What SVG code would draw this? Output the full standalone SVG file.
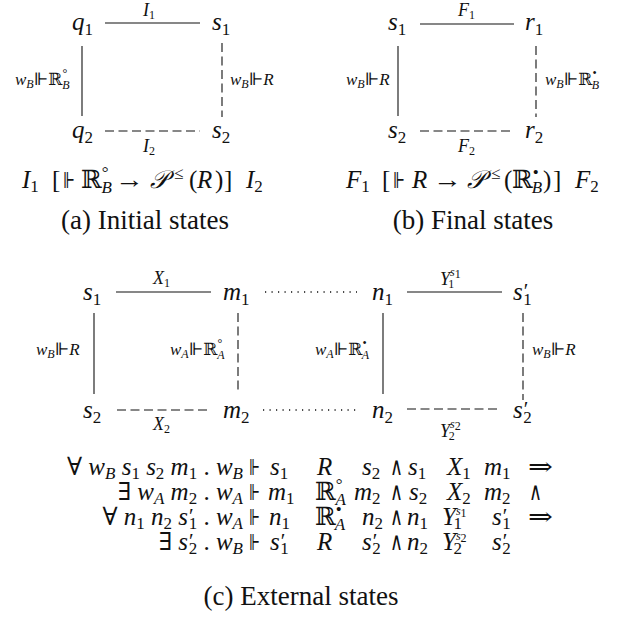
<svg xmlns="http://www.w3.org/2000/svg" width="620" height="623" viewBox="0 0 620 623">
<style>
text{font-family:"Liberation Serif","DejaVu Serif",serif;fill:#111}
.n{font-size:25px;font-style:italic}
.e{font-size:18px;font-style:italic}
.l{font-size:17px;font-style:italic}
.f{font-size:25px;font-style:italic}
.fv{font-size:22px;font-style:normal}
.cap{font-size:27px;font-style:normal}
.u{font-style:normal}
.s1{font-size:17px;font-style:normal}
.s2{font-size:12px;font-style:normal}
.si{font-size:12px;font-style:italic}
.fi{font-size:17px;font-style:italic}
.fu{font-size:17px;font-style:normal}
.pr{font-size:21px;font-style:normal}
.solid{stroke:#111;stroke-width:1.1;fill:none}
.dash{stroke:#111;stroke-width:1.1;stroke-dasharray:9 4.5;fill:none}
.dot{stroke:#111;stroke-width:1.3;stroke-dasharray:1.2 5.3;fill:none}
</style>

<!-- (a) Initial states -->
<g id="a-q1"><text class="n" x="72" y="30">q<tspan class="s1" dy="5">1</tspan></text></g>
<g id="a-s1"><text class="n" x="212" y="30">s<tspan class="s1" dy="5">1</tspan></text></g>
<g id="a-q2"><text class="n" x="72" y="138">q<tspan class="s1" dy="5">2</tspan></text></g>
<g id="a-s2"><text class="n" x="212" y="138">s<tspan class="s1" dy="5">2</tspan></text></g>

<!-- (b) Final states -->
<g id="b-s1"><text class="n" x="388" y="30">s<tspan class="s1" dy="5">1</tspan></text></g>
<g id="b-r1"><text class="n" x="525" y="30">r<tspan class="s1" dy="5">1</tspan></text></g>
<g id="b-s2"><text class="n" x="388" y="138">s<tspan class="s1" dy="5">2</tspan></text></g>
<g id="b-r2"><text class="n" x="525" y="138">r<tspan class="s1" dy="5">2</tspan></text></g>

<!-- (c) External states -->
<g id="c-s1"><text class="n" x="83" y="300">s<tspan class="s1" dy="5">1</tspan></text></g>
<g id="c-m1"><text class="n" x="223" y="300">m<tspan class="s1" dy="5">1</tspan></text></g>
<g id="c-n1"><text class="n" x="372" y="300">n<tspan class="s1" dy="5">1</tspan></text></g>
<g id="c-s1p"><text class="n" x="513" y="300">s<tspan class="pr" dx="1" dy="-2">′</tspan><tspan class="s1" dx="-5" dy="7">1</tspan></text></g>
<g id="c-s2"><text class="n" x="83" y="418">s<tspan class="s1" dy="5">2</tspan></text></g>
<g id="c-m2"><text class="n" x="223" y="418">m<tspan class="s1" dy="5">2</tspan></text></g>
<g id="c-n2"><text class="n" x="372" y="418">n<tspan class="s1" dy="5">2</tspan></text></g>
<g id="c-s2p"><text class="n" x="513" y="418">s<tspan class="pr" dx="1" dy="-2">′</tspan><tspan class="s1" dx="-5" dy="7">2</tspan></text></g>

<g id="connectors">
  <!-- (a) -->
  <line class="solid" x1="105" y1="23" x2="200" y2="23"/>
  <line class="solid" x1="82" y1="46" x2="82" y2="116"/>
  <line class="dash" x1="222" y1="43" x2="222" y2="117"/>
  <line class="dash" x1="105" y1="131" x2="200" y2="131"/>
  <!-- (b) -->
  <line class="solid" x1="420" y1="24" x2="514" y2="24"/>
  <line class="solid" x1="398" y1="46" x2="398" y2="116"/>
  <line class="dash" x1="536" y1="46" x2="536" y2="117"/>
  <line class="dash" x1="420" y1="131" x2="512" y2="131"/>
  <!-- (c) -->
  <line class="solid" x1="116" y1="292" x2="211" y2="292"/>
  <line class="dot" x1="265" y1="292" x2="357" y2="292"/>
  <line class="solid" x1="407" y1="292" x2="502" y2="292"/>
  <line class="solid" x1="94" y1="313" x2="94" y2="394"/>
  <line class="dash" x1="238" y1="313" x2="238" y2="392"/>
  <line class="solid" x1="383" y1="313" x2="383" y2="394"/>
  <line class="dash" x1="523" y1="313" x2="523" y2="400"/>
  <line class="dash" x1="117" y1="410" x2="208" y2="410"/>
  <line class="dot" x1="263" y1="410" x2="357" y2="410"/>
  <line class="dash" x1="407" y1="409" x2="500" y2="409"/>
</g>

<g id="edge-labels">
  <!-- (a) -->
  <text class="e" x="143" y="16">I<tspan class="s2" dy="3">1</tspan></text>
  <text class="e" x="143" y="152">I<tspan class="s2" dy="3">2</tspan></text>
  <text class="l" x="15" y="85">w<tspan class="si" dy="3">B</tspan><tspan class="u" dy="-3">⊩ℝ</tspan><tspan class="s2" dy="-8">°</tspan><tspan class="si" dx="-5" dy="12">B</tspan></text>
  <text class="l" x="230" y="85">w<tspan class="si" dy="3">B</tspan><tspan class="u" dy="-3">⊩</tspan>R</text>
  <!-- (b) -->
  <text class="e" x="458" y="16">F<tspan class="s2" dy="3">1</tspan></text>
  <text class="e" x="458" y="152">F<tspan class="s2" dy="3">2</tspan></text>
  <text class="l" x="346" y="85">w<tspan class="si" dy="3">B</tspan><tspan class="u" dy="-3">⊩</tspan>R</text>
  <text class="l" x="545" y="85">w<tspan class="si" dy="3">B</tspan><tspan class="u" dy="-3">⊩ℝ</tspan><tspan class="s2" dy="-8">•</tspan><tspan class="si" dx="-5" dy="12">B</tspan></text>
  <!-- (c) -->
  <text class="e" x="153" y="284">X<tspan class="s2" dy="3">1</tspan></text>
  <text class="e" x="153" y="430">X<tspan class="s2" dy="3">2</tspan></text>
  <text class="e" x="440" y="285">Y<tspan class="si" dy="-9">s</tspan><tspan class="s2" font-size="9" dy="2">1</tspan><tspan class="s2" dx="-12" dy="10">1</tspan></text>
  <text class="e" x="440" y="437">Y<tspan class="si" dy="-9">s</tspan><tspan class="s2" font-size="9" dy="2">2</tspan><tspan class="s2" dx="-12" dy="10">2</tspan></text>
  <text class="l" x="36" y="355">w<tspan class="si" dy="3">B</tspan><tspan class="u" dy="-3">⊩</tspan>R</text>
  <text class="l" x="170" y="355">w<tspan class="si" dy="3">A</tspan><tspan class="u" dy="-3">⊩ℝ</tspan><tspan class="s2" dy="-8">°</tspan><tspan class="si" dx="-5" dy="12">A</tspan></text>
  <text class="l" x="315" y="355">w<tspan class="si" dy="3">A</tspan><tspan class="u" dy="-3">⊩ℝ</tspan><tspan class="s2" dy="-8">•</tspan><tspan class="si" dx="-5" dy="12">A</tspan></text>
  <text class="l" x="532" y="355">w<tspan class="si" dy="3">B</tspan><tspan class="u" dy="-3">⊩</tspan>R</text>
</g>

<!-- formula (a) -->
<g id="formula-a">
  <text class="f" x="22" y="188">I<tspan class="fu" dy="4">1</tspan></text>
  <text class="f u" x="52" y="188">[</text>
  <text class="fv" x="63" y="188" textLength="12" lengthAdjust="spacingAndGlyphs">⊩</text>
  <text class="f" x="81" y="188"><tspan class="u">ℝ</tspan><tspan class="fu" dy="-10">°</tspan><tspan class="fi" dx="-7" dy="15">B</tspan></text>
  <text class="f u" x="115" y="188" textLength="29" lengthAdjust="spacingAndGlyphs">→</text>
  <text class="f" x="150" y="188" textLength="18" lengthAdjust="spacingAndGlyphs">𝒫</text>
  <text class="fu" x="174" y="179">≤</text>
  <text class="f" y="188"><tspan class="u" x="189">(</tspan><tspan x="197">R</tspan><tspan class="u" x="215">)</tspan><tspan class="u" x="224">]</tspan></text>
  <text class="f" x="246" y="188">I<tspan class="fu" dy="4">2</tspan></text>
</g>
<!-- formula (b) -->
<g id="formula-b">
  <text class="f" x="346" y="188">F<tspan class="fu" dy="4">1</tspan></text>
  <text class="f u" x="382" y="188">[</text>
  <text class="fv" x="393" y="188" textLength="12" lengthAdjust="spacingAndGlyphs">⊩</text>
  <text class="f" x="412" y="188">R</text>
  <text class="f u" x="433" y="188" textLength="29" lengthAdjust="spacingAndGlyphs">→</text>
  <text class="f" x="467" y="188" textLength="18" lengthAdjust="spacingAndGlyphs">𝒫</text>
  <text class="fu" x="491" y="179">≤</text>
  <text class="f u" x="504" y="188">(</text>
  <text class="f" x="512" y="188"><tspan class="u">ℝ</tspan><tspan class="fu" dy="-10">•</tspan><tspan class="fi" dx="-7" dy="15">B</tspan></text>
  <text class="f u" y="188"><tspan x="543">)</tspan><tspan x="553">]</tspan></text>
  <text class="f" x="575" y="188">F<tspan class="fu" dy="4">2</tspan></text>
</g>
<text class="cap" x="145" y="229" text-anchor="middle">(a) Initial states</text>
<text class="cap" x="473" y="229" text-anchor="middle">(b) Final states</text>

<g id="formula-c">
  <!-- line 1 -->
  <text class="f" x="243" y="475" text-anchor="end"><tspan class="u">∀ </tspan>w<tspan class="fi" dy="4">B</tspan><tspan dy="-4"> s</tspan><tspan class="fu" dy="4">1</tspan><tspan dy="-4"> s</tspan><tspan class="fu" dy="4">2</tspan><tspan dy="-4"> m</tspan><tspan class="fu" dy="4">1</tspan><tspan class="u" dy="-4"> . </tspan>w<tspan class="fi" dy="4">B</tspan></text>
  <text class="fv" x="249" y="475" textLength="11" lengthAdjust="spacingAndGlyphs">⊩</text>
  <text class="f" x="270" y="475">s<tspan class="fu" dy="4">1</tspan></text>
  <text class="f" x="317" y="475">R</text>
  <text class="f" x="362" y="475">s<tspan class="fu" dy="4">2</tspan></text>
  <text class="f u" x="390" y="475" textLength="13" lengthAdjust="spacingAndGlyphs">∧</text>
  <text class="f" x="408" y="475">s<tspan class="fu" dy="4">1</tspan></text>
  <text class="f" x="447" y="475">X<tspan class="fu" dy="4">1</tspan></text>
  <text class="f" x="484" y="475">m<tspan class="fu" dy="4">1</tspan></text>
  <text class="f u" x="528" y="475" textLength="25" lengthAdjust="spacingAndGlyphs">⇒</text>
  <!-- line 2 -->
  <text class="f" x="243" y="500" text-anchor="end"><tspan class="u">∃ </tspan>w<tspan class="fi" dy="4">A</tspan><tspan dy="-4"> m</tspan><tspan class="fu" dy="4">2</tspan><tspan class="u" dy="-4"> . </tspan>w<tspan class="fi" dy="4">A</tspan></text>
  <text class="fv" x="249" y="500" textLength="11" lengthAdjust="spacingAndGlyphs">⊩</text>
  <text class="f" x="268" y="500">m<tspan class="fu" dy="4">1</tspan></text>
  <text class="f" x="315" y="500"><tspan class="u">ℝ</tspan><tspan class="fu" dy="-10">°</tspan><tspan class="fi" dx="-7" dy="15">A</tspan></text>
  <text class="f" x="354" y="500">m<tspan class="fu" dy="4">2</tspan></text>
  <text class="f u" x="390" y="500" textLength="13" lengthAdjust="spacingAndGlyphs">∧</text>
  <text class="f" x="409" y="500">s<tspan class="fu" dy="4">2</tspan></text>
  <text class="f" x="447" y="500">X<tspan class="fu" dy="4">2</tspan></text>
  <text class="f" x="484" y="500">m<tspan class="fu" dy="4">2</tspan></text>
  <text class="f u" x="529" y="500" textLength="13" lengthAdjust="spacingAndGlyphs">∧</text>
  <!-- line 3 -->
  <text class="f" x="243" y="525" text-anchor="end"><tspan class="u">∀ </tspan>n<tspan class="fu" dy="4">1</tspan><tspan dy="-4"> n</tspan><tspan class="fu" dy="4">2</tspan><tspan dy="-4"> s</tspan><tspan class="pr" dx="1" dy="-2">′</tspan><tspan class="fu" dx="-5" dy="6">1</tspan><tspan class="u" dy="-4"> . </tspan>w<tspan class="fi" dy="4">A</tspan></text>
  <text class="fv" x="249" y="525" textLength="11" lengthAdjust="spacingAndGlyphs">⊩</text>
  <text class="f" x="269" y="525">n<tspan class="fu" dy="4">1</tspan></text>
  <text class="f" x="315" y="525"><tspan class="u">ℝ</tspan><tspan class="fu" dy="-10">•</tspan><tspan class="fi" dx="-7" dy="15">A</tspan></text>
  <text class="f" x="362" y="525">n<tspan class="fu" dy="4">2</tspan></text>
  <text class="f u" x="390" y="525" textLength="13" lengthAdjust="spacingAndGlyphs">∧</text>
  <text class="f" x="407" y="525">n<tspan class="fu" dy="4">1</tspan></text>
  <text class="f" x="442" y="525">Y<tspan class="si" dy="-10">s</tspan><tspan class="s2" font-size="9" dy="2">1</tspan><tspan class="fu" dx="-13" dy="12">1</tspan></text>
  <text class="f" x="492" y="525">s<tspan class="pr" dx="1" dy="-2">′</tspan><tspan class="fu" dx="-5" dy="6">1</tspan></text>
  <text class="f u" x="528" y="525" textLength="25" lengthAdjust="spacingAndGlyphs">⇒</text>
  <!-- line 4 -->
  <text class="f" x="243" y="550" text-anchor="end"><tspan class="u">∃ </tspan>s<tspan class="pr" dx="1" dy="-2">′</tspan><tspan class="fu" dx="-5" dy="6">2</tspan><tspan class="u" dy="-4"> . </tspan>w<tspan class="fi" dy="4">B</tspan></text>
  <text class="fv" x="249" y="550" textLength="11" lengthAdjust="spacingAndGlyphs">⊩</text>
  <text class="f" x="270" y="550">s<tspan class="pr" dx="1" dy="-2">′</tspan><tspan class="fu" dx="-5" dy="6">1</tspan></text>
  <text class="f" x="317" y="550">R</text>
  <text class="f" x="362" y="550">s<tspan class="pr" dx="1" dy="-2">′</tspan><tspan class="fu" dx="-5" dy="6">2</tspan></text>
  <text class="f u" x="390" y="550" textLength="13" lengthAdjust="spacingAndGlyphs">∧</text>
  <text class="f" x="407" y="550">n<tspan class="fu" dy="4">2</tspan></text>
  <text class="f" x="442" y="550">Y<tspan class="si" dy="-10">s</tspan><tspan class="s2" font-size="9" dy="2">2</tspan><tspan class="fu" dx="-13" dy="12">2</tspan></text>
  <text class="f" x="492" y="550">s<tspan class="pr" dx="1" dy="-2">′</tspan><tspan class="fu" dx="-5" dy="6">2</tspan></text>
</g>
<text class="cap" x="301" y="605" text-anchor="middle" font-size="28">(c) External states</text>
</svg>
